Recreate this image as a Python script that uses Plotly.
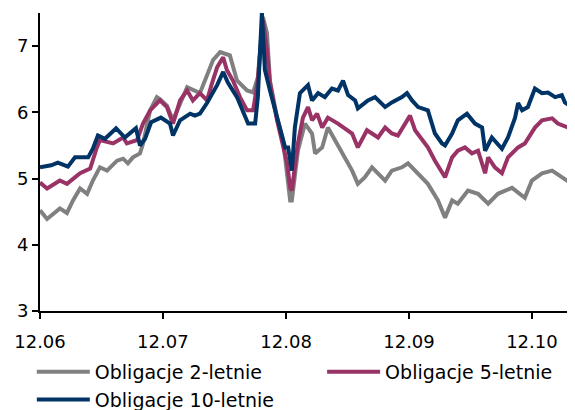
import plotly.graph_objects as go

# Obligacje 2-letnie (grey)
dates_2y = ["2006-12-01","2006-12-22","2007-01-29","2007-02-19","2007-03-09","2007-03-30","2007-04-20",
            "2007-05-07","2007-05-28","2007-06-18","2007-07-18","2007-08-05","2007-08-19","2007-09-03",
            "2007-09-24","2007-10-03","2007-10-24","2007-11-13","2007-11-22","2007-12-13","2007-12-31",
            "2008-02-11","2008-03-20","2008-04-28","2008-05-19","2008-06-17","2008-07-08","2008-08-07",
            "2008-08-25","2008-09-08","2008-09-23","2008-10-05","2008-10-14","2008-11-04","2008-11-22",
            "2008-12-07","2008-12-13","2008-12-18","2009-01-05","2009-01-26","2009-02-16","2009-02-25",
            "2009-03-18","2009-04-04","2009-04-25","2009-05-16","2009-06-15","2009-07-02","2009-07-23",
            "2009-08-13","2009-08-31","2009-09-21","2009-10-11","2009-11-10","2009-11-28","2009-12-28",
            "2010-01-26","2010-02-25","2010-03-18","2010-04-08","2010-04-25","2010-05-25","2010-06-24",
            "2010-07-24","2010-08-22","2010-10-03","2010-11-10","2010-12-01","2010-12-31","2011-01-30",
            "2011-02-28","2011-03-30","2011-04-08"]
yield_2y = [4.52,4.39,4.55,4.48,4.67,4.85,4.77,
            4.97,5.17,5.12,5.27,5.30,5.23,5.32,
            5.38,5.53,6.03,6.23,6.20,6.10,5.88,
            6.38,6.29,6.79,6.91,6.86,6.48,6.33,
            6.30,6.53,7.44,7.20,6.48,5.92,5.58,
            4.86,4.67,4.67,5.42,5.83,5.68,5.38,
            5.47,5.77,5.58,5.38,5.12,4.92,5.02,
            5.17,5.08,4.97,5.12,5.17,5.23,5.08,
            4.92,4.67,4.41,4.67,4.62,4.82,4.77,
            4.62,4.77,4.86,4.71,4.97,5.08,5.12,
            5.02,4.92,4.86]

# Obligacje 5-letnie (magenta)
dates_5y = ["2006-12-01","2006-12-22","2007-01-29","2007-02-19","2007-03-30","2007-04-29","2007-05-19",
            "2007-05-28","2007-07-06","2007-08-05","2007-08-16","2007-09-15","2007-10-03","2007-10-24",
            "2007-11-22","2007-12-13","2007-12-31","2008-01-21","2008-02-11","2008-02-28","2008-03-20",
            "2008-04-10","2008-04-25","2008-05-10","2008-05-28","2008-06-08","2008-06-26","2008-07-17",
            "2008-08-07","2008-08-25","2008-09-08","2008-09-23","2008-10-05","2008-10-14","2008-11-04",
            "2008-11-22","2008-12-04","2008-12-13","2008-12-18","2009-01-05","2009-01-20","2009-02-04",
            "2009-02-16","2009-03-03","2009-03-18","2009-04-04","2009-05-04","2009-06-15","2009-07-02",
            "2009-07-29","2009-08-31","2009-09-21","2009-10-11","2009-10-29","2009-11-19","2009-12-04",
            "2009-12-19","2010-01-09","2010-01-26","2010-02-16","2010-03-09","2010-03-18","2010-04-08",
            "2010-04-25","2010-05-16","2010-06-06","2010-06-24","2010-07-15","2010-07-24","2010-08-13",
            "2010-09-03","2010-09-21","2010-10-21","2010-11-10","2010-12-10","2010-12-31","2011-01-30",
            "2011-02-16","2011-03-18","2011-04-08"]
yield_5y = [4.94,4.85,4.97,4.92,5.08,5.15,5.47,
            5.58,5.53,5.62,5.53,5.58,5.83,6.03,
            6.18,6.08,5.83,6.18,6.33,6.18,6.29,
            6.18,6.44,6.68,6.83,6.64,6.48,6.23,
            6.03,6.03,6.48,7.39,6.94,6.44,5.88,
            5.47,5.23,4.86,4.82,5.53,5.92,6.08,
            5.88,5.98,5.77,5.92,5.83,5.68,5.47,
            5.73,5.62,5.77,5.68,5.65,5.83,5.95,
            5.73,5.58,5.47,5.27,5.08,5.02,5.32,
            5.42,5.47,5.38,5.42,5.08,5.32,5.17,
            5.08,5.32,5.47,5.53,5.77,5.88,5.91,
            5.83,5.77,5.68]

# Obligacje 10-letnie (navy)
dates_10y = ["2006-12-01","2007-01-03","2007-01-23","2007-02-22","2007-03-15","2007-04-23","2007-05-07",
             "2007-05-22","2007-06-12","2007-07-15","2007-08-10","2007-09-12","2007-09-24","2007-10-09",
             "2007-10-27","2007-11-25","2007-12-22","2007-12-31","2008-01-21","2008-02-20","2008-03-05",
             "2008-03-20","2008-04-10","2008-05-10","2008-05-28","2008-06-11","2008-07-08","2008-07-23",
             "2008-08-10","2008-08-31","2008-09-08","2008-09-20","2008-09-29","2008-10-14","2008-11-04",
             "2008-11-28","2008-12-07","2008-12-18","2008-12-27","2009-01-11","2009-02-04","2009-02-16",
             "2009-03-06","2009-03-26","2009-04-16","2009-05-04","2009-05-19","2009-06-03","2009-06-24",
             "2009-07-02","2009-08-01","2009-08-22","2009-09-21","2009-10-11","2009-11-10","2009-11-25",
             "2009-12-10","2009-12-28","2010-01-26","2010-02-16","2010-03-09","2010-03-18","2010-04-08",
             "2010-04-25","2010-05-22","2010-06-15","2010-07-06","2010-07-15","2010-08-04","2010-09-03",
             "2010-09-21","2010-10-12","2010-10-21","2010-11-02","2010-11-19","2010-12-10","2010-12-31",
             "2011-01-18","2011-02-08","2011-02-28","2011-03-09","2011-03-30","2011-04-08"]
yield_10y = [5.17,5.20,5.24,5.18,5.32,5.32,5.45,
             5.65,5.60,5.76,5.62,5.76,5.50,5.60,
             5.85,5.92,5.83,5.65,5.88,5.98,5.95,
             5.98,6.14,6.41,6.61,6.45,6.23,6.03,
             5.83,5.83,6.23,7.50,6.64,6.33,5.92,
             5.47,5.47,5.12,5.77,6.29,6.41,6.18,
             6.29,6.23,6.36,6.33,6.48,6.26,6.18,
             6.06,6.18,6.23,6.08,6.15,6.23,6.29,
             6.18,6.08,6.03,5.68,5.53,5.50,5.68,
             5.88,5.98,5.83,5.77,5.42,5.62,5.45,
             5.62,5.92,6.14,6.03,6.08,6.36,6.29,
             6.30,6.23,6.26,6.15,6.08,6.08]

series = [
    ("Obligacje 2-letnie", dates_2y, yield_2y, "#808080", "legend"),
    ("Obligacje 5-letnie", dates_5y, yield_5y, "#993366", "legend2"),
    ("Obligacje 10-letnie", dates_10y, yield_10y, "#003366", "legend"),
]

font_family = "DejaVu Sans, Verdana, sans-serif"

fig = go.Figure()
for name, d, v, c, lg in series:
    fig.add_trace(go.Scatter(x=d, y=v, name=name, mode="lines",
                             line=dict(color=c, width=4), legend=lg))

legend_common = dict(orientation="v", xref="container", yref="container",
                     xanchor="left", yanchor="top", itemwidth=53,
                     font=dict(size=19), tracegroupgap=0,
                     bgcolor="rgba(0,0,0,0)")

fig.update_layout(
    width=567, height=402,
    margin=dict(l=32, r=0, t=5, b=99, autoexpand=False),
    paper_bgcolor="white", plot_bgcolor="white",
    font=dict(family=font_family, size=18, color="#000000"),
    showlegend=True,
    legend=dict(x=0.042, y=0.142, **legend_common),
    legend2=dict(x=0.554, y=0.142, **legend_common),
)
fig.update_xaxes(type="date", range=["2006-12-01", "2011-04-08"],
                 tick0="2006-12-01", dtick="M12", tickformat="%m.%y",
                 showline=True, linecolor="black", linewidth=2,
                 ticks="outside", ticklen=6, tickwidth=2, tickcolor="black",
                 ticklabelstandoff=7,
                 showgrid=False, zeroline=False, tickfont=dict(size=18))
fig.update_yaxes(range=[3, 7.5], dtick=1, tick0=3,
                 showline=True, linecolor="black", linewidth=2,
                 ticks="outside", ticklen=6, tickwidth=2, tickcolor="black",
                 showgrid=False, zeroline=False, tickfont=dict(size=18))

fig.write_html("out.html")
